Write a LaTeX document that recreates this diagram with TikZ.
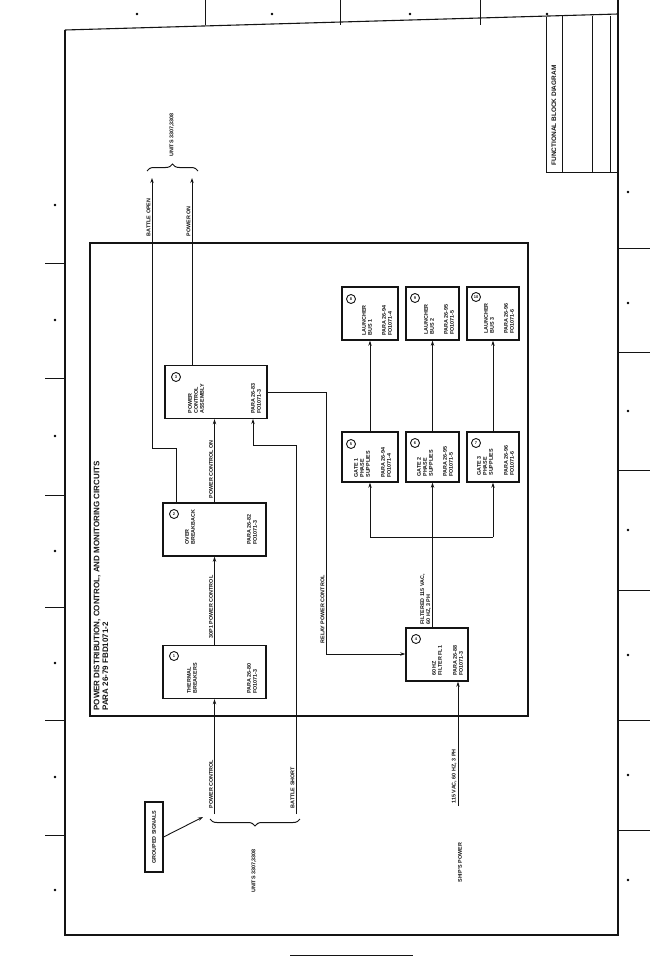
\documentclass[tikz,border=0pt]{standalone}
\usepackage{fontspec}
\setmainfont{Liberation Sans}
\usetikzlibrary{arrows.meta, positioning, decorations.pathreplacing, calc}
\definecolor{inkline}{RGB}{20,20,20}

\begin{document}
\begin{tikzpicture}[x=1pt, y=-1pt, line width=0.9pt, draw=inkline, text=inkline,
  blk/.style={draw, line width=1.4pt, minimum width=#1, minimum height=53pt, inner sep=0pt},
  txt/.style={rotate=90, anchor=west, align=left, inner sep=0pt,
              font=\fontsize{5.4}{5.9}\selectfont\bfseries},
  lbl/.style={rotate=90, anchor=south west, inner sep=1.2pt,
              font=\fontsize{5.4}{5.9}\selectfont\bfseries},
  num/.style={circle, draw, line width=0.9pt, minimum size=9pt, inner sep=0pt,
              font=\fontsize{4}{4}\selectfont\bfseries},
  arr/.style={-{Stealth[length=5pt, width=3.4pt]}},
  brc/.style={decorate, decoration={brace, amplitude=7pt}, line width=1pt}]

  \useasboundingbox (0,0) rectangle (650,963);

  % sheet frame
  \draw[line width=1.1pt] (65,30) -- (65,935) -- (618,935) -- (618,0);
  \draw[line width=1.1pt] (65,30) -- (618,14);
  \foreach \y in {263,378,495,607,720,835}
    \draw (45,\y) -- (65,\y);
  \foreach \y in {248,352,470,590,720,830}
    \draw (618,\y) -- (650,\y);
  \foreach \x in {205,340,480}
    \draw (\x,0) -- (\x,25);
  \foreach \y in {205,320,436,551,663,777,890}
    \fill (55,\y) circle (1.3pt);
  \foreach \y in {192,303,411,530,655,775,880}
    \fill (628,\y) circle (1.3pt);
  \foreach \x in {137,272,410,547}
    \fill (\x,14) circle (1.3pt);
  \draw (290,955) -- (413,955);

  % title block
  \draw (546,17) -- (546,172) -- (618,172);
  \foreach \x in {562,592,610}
    \draw (\x,16) -- (\x,172);
  \node[txt, font=\fontsize{6.5}{7}\selectfont\bfseries] (ttl) at (554,166) {FUNCTIONAL BLOCK DIAGRAM};

  % main box
  \draw[line width=1.2pt] (90,243) rectangle (528,716);
  \node[txt, font=\fontsize{8}{8.6}\selectfont\bfseries] (head) at (101,711)
    {POWER DISTRIBUTION, CONTROL, AND MONITORING CIRCUITS\\PARA 26-79 FBD1071-2};

  % blocks
  \node[blk=103pt] (thr) at (214.5,672) {};
  \node[blk=103pt] (ovr) at (214.5,529.5) {};
  \node[blk=102pt] (pca) at (216,392) {};
  \node[blk=62pt] (flt) at (437,654.5) {};
  \node[blk=56pt, minimum height=50pt] (ga) at (370,457) {};
  \node[blk=53pt, minimum height=50pt] (gb) at (432.5,457) {};
  \node[blk=52pt, minimum height=50pt] (gc) at (493,457) {};
  \node[blk=56pt] (la) at (370,313.5) {};
  \node[blk=53pt] (lb) at (432.5,313.5) {};
  \node[blk=52pt] (lc) at (493,313.5) {};

  \node[num] (n1) at (174,656) {1};
  \node[num] (n2) at (174,514) {2};
  \node[num] (n3) at (176,377) {3};
  \node[num] (n4) at (416,639) {4};
  \node[num] (n5) at (351,444) {5};
  \node[num] (n6) at (415,443) {6};
  \node[num] (n7) at (476,443) {7};
  \node[num] (n8) at (351,299) {8};
  \node[num] (n9) at (415,298) {9};
  \node[num] (n10) at (476,297) {10};

  \node[txt] (thr-t) at (192,694) {THERMAL\\BREAKERS};
  \node[txt] (thr-p) at (252,694) {PARA 26-80\\FO1071-3};
  \node[txt] (ovr-t) at (190,545) {OVER\\BREAKBACK};
  \node[txt] (ovr-p) at (252,545) {PARA 26-82\\FO1071-3};
  \node[txt] (pca-t) at (196,414) {POWER\\CONTROL\\ASSEMBLY};
  \node[txt] (pca-p) at (256,414) {PARA 26-83\\FO1071-3};
  \node[txt] (flt-t) at (437,676) {60 HZ\\FILTER FL1};
  \node[txt] (flt-p) at (458,676) {PARA 26-88\\FO1071-3};
  \node[txt] (ga-t) at (362,478) {GATE 1\\PHASE\\SUPPLIES};
  \node[txt] (ga-p) at (386,478) {PARA 26-94\\FO1071-4};
  \node[txt] (gb-t) at (425,477) {GATE 2\\PHASE\\SUPPLIES};
  \node[txt] (gb-p) at (448,477) {PARA 26-95\\FO1071-5};
  \node[txt] (gc-t) at (485,476) {GATE 3\\PHASE\\SUPPLIES};
  \node[txt] (gc-p) at (509,476) {PARA 26-96\\FO1071-6};
  \node[txt] (la-t) at (367,336) {LAUNCHER\\BUS 1};
  \node[txt] (la-p) at (387,336) {PARA 26-94\\FO1071-4};
  \node[txt] (lb-t) at (429,335) {LAUNCHER\\BUS 2};
  \node[txt] (lb-p) at (449,335) {PARA 26-95\\FO1071-5};
  \node[txt] (lc-t) at (489,334) {LAUNCHER\\BUS 3};
  \node[txt] (lc-p) at (509,334) {PARA 26-96\\FO1071-6};

  % end points outside the blocks
  \coordinate (uo) at (152,178);
  \coordinate (up) at (192,178);
  \coordinate (pc) at (214.5,814);
  \coordinate (bs) at (296,814);
  \coordinate (sp) at (458,806);
  \coordinate (bus) at (432.5,537);

  \node[draw, rotate=90, line width=1.1pt, minimum width=70pt, minimum height=18pt,
        inner sep=0pt, font=\fontsize{5.4}{5.9}\selectfont\bfseries]
    (grp) at (154,837) {GROUPED SIGNALS};

  % connectors
  \draw[arr] (pc) -- (thr.south);
  \draw[arr] (thr.north) -- (ovr.south);
  \draw[arr] (ovr.north) -- (ovr.north |- pca.south);
  \draw[arr] (bs) |- (253,445) -- (253,419);
  \draw[arr] (ovr.north west) ++(14,0) |- (152,448) -- (uo);
  \draw[arr] (pca.north -| up) -- (up);
  \draw[arr] (pca.east) -| (326,654) -- (flt.west |- 0,654);
  \draw[arr] (sp) -- (sp |- flt.south);
  \draw (flt.north -| bus) -- (bus);
  \draw (ga.south |- bus) -- (gc.south |- bus);
  \foreach \g in {ga, gb, gc}
    \draw[arr] (\g.south |- bus) -- (\g.south);
  \foreach \g/\l in {ga/la, gb/lb, gc/lc}
    \draw[arr] (\g.north) -- (\l.south);
  \draw[arr] (grp.south) -- (203,817);

  \draw[brc] (147,171) -- (198,171);
  \draw[brc] (300,819) -- (210,819);

  % line labels
  \node[lbl] (l-pc) at (214.5,810) {POWER CONTROL};
  \node[lbl] (l-bs) at (296,810) {BATTLE SHORT};
  \node[lbl] (l-ip) at (214.5,640) {30P1 POWER CONTROL};
  \node[lbl] (l-on) at (214.5,500) {POWER CONTROL ON};
  \node[lbl] (l-rl) at (326,645) {RELAY POWER CONTROL};
  \node[lbl] (l-bo) at (152,238) {BATTLE OPEN};
  \node[lbl] (l-po) at (192,238) {POWER ON};
  \node[lbl] (l-sp) at (458,805) {115 VAC, 60 HZ, 3 PH};
  \node[lbl, align=left] (l-fl) at (432.5,626) {FILTERED 115 VAC,\\60 HZ, 3 PH};
  \node[txt] (u-top) at (172,157) {UNITS 3307,3308};
  \node[txt] (u-bot) at (254,893) {UNITS 3307,3308};
  \node[txt] (ship) at (460,883) {SHIP'S POWER};
\end{tikzpicture}
\end{document}
